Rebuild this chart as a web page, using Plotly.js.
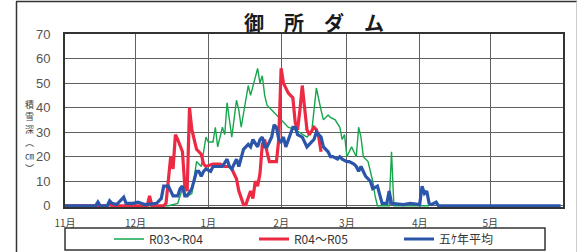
<!DOCTYPE html>
<html>
<head>
<meta charset="utf-8">
<script src="https://cdn.plot.ly/plotly-3.0.1.min.js"></script>
<style>html,body{margin:0;padding:0;background:#fff;}#chart{width:578px;height:252px;}</style>
</head>
<body>
<div id="chart"></div>
<script>
// Season axis: Nov -> May (month-day labels); Nov/Dec belong to first year
const monthTickVals = ["2022-11-01","2022-12-01","2023-01-01","2023-02-01","2023-03-01","2023-04-01","2023-05-01"];
const monthTickText = ["11月","12月","1月","2月","3月","4月","5月"];

const seriesNames = ["R03～R04","R04～R05","五ｹ年平均"];
const yTitleChars = ["積","雪","深","︵","㎝","︶"];

// R03～R04
const greenDates = ["11-01","11-30","12-02","12-04","12-15","12-19","12-21","12-23","12-25","12-27","12-29","12-31",
  "01-01","01-03","01-04","01-05","01-07","01-08","01-09","01-11","01-13","01-14","01-15","01-17","01-18","01-19",
  "01-21","01-22","01-23","01-24","01-25","01-26","01-29","02-01","02-04","02-07","02-10","02-12","02-14","02-16",
  "02-18","02-19","02-21","02-22","02-24","02-26","02-27","02-28","03-01","03-03","03-05","03-06","03-07","03-08",
  "03-10","03-12","03-13","03-14","03-19","03-20","03-21","04-05"];
const greenValues = [0,0,1.5,0,0,1,7,4,5,18,16,28,
  26,26,32,24,32,29,42,28,43,39,32,44,49,45,
  52,56,50,53,45,41,38,35,32,31,29,28,30,48,
  39,35,37,36,35,32,27,29,20,24,20,32,28,20,
  18,10,4,0,0,22,0,0];

// R04～R05
const redDates = ["11-01","11-19","11-20","11-21","12-06","12-07","12-08","12-13","12-14","12-15","12-16","12-17",
  "12-18","12-19","12-21","12-22","12-23","12-24","12-25","12-27","12-29","12-30","12-31","01-03","01-06","01-08",
  "01-10","01-11","01-13","01-14","01-16","01-17","01-19","01-20","01-21","01-22","01-23","01-24","01-25","01-26",
  "01-27","01-29","01-30","01-31","02-01","02-02","02-04","02-05","02-06","02-07","02-08","02-09","02-10","02-11",
  "02-12","02-13","02-15","02-16","02-17","02-18"];
const redValues = [0,0,1,0,0,4,0,0,1,10,20,15,
  29,27,22,8,6,40,31,23,21,17,16,17,17,16,
  16,15,11,6,0.5,0.5,6,3,10,8,13,25,27,22,
  18,18,18,27,56,50,46,45,44,34,31,39,49,40,
  31,29,32,31,28,22];

// 五ｹ年平均
const blueDates = ["11-01","11-14","11-15","11-16","11-19","11-20","11-21","11-23","11-26","11-27","11-30","12-02",
  "12-05","12-10","12-12","12-13","12-15","12-16","12-17","12-19","12-20","12-21","12-22","12-23","12-25","12-27",
  "12-28","12-29","12-30","12-31","01-02","01-03","01-05","01-07","01-09","01-10","01-11","01-13","01-14","01-15",
  "01-16","01-18","01-19","01-20","01-22","01-23","01-24","01-25","01-26","01-28","01-29","01-30","01-31","02-01",
  "02-02","02-03","02-04","02-06","02-07","02-08","02-10","02-11","02-12","02-14","02-15","02-16","02-18","02-19",
  "02-21","02-22","02-23","02-25","02-26","02-27","03-01","03-02","03-04","03-05","03-06","03-07","03-09","03-11",
  "03-12","03-14","03-15","03-16","03-18","03-19","03-20","03-25","03-28","04-01","04-02","04-03","04-04","04-05",
  "04-06","04-08","04-09","05-31"];
const blueValues = [0,0,1.5,0,0,2,1,0.5,3.5,1,1,1.5,
  0.5,1,3,8,8,6,4,4,7,8,4,4,7,14,
  14,12,14,15,14,16,16,16,19,16,15,19,16,19,
  23,25,24,27,24,27,28,24,24,28,33,32,27,26,
  28,24,27,32,32,29,28,26,24,26,27,30,28,24,
  22,20,20,19,20,19,18,18,17,16,14,16,12,10,
  7,8,5,1,1,6,1,0.5,1,0.5,8,5,6,1,
  0.5,1.5,0,0];

function toDate(md){
  const m = parseInt(md.slice(0,2),10);
  return (m >= 11 ? "2022-" : "2023-") + md;
}

const traces = [
  {x: greenDates.map(toDate), y: greenValues, name: seriesNames[0], type: "scatter", mode: "lines",
   line: {color: "#16a64c", width: 1.4}},
  {x: redDates.map(toDate), y: redValues, name: seriesNames[1], type: "scatter", mode: "lines",
   line: {color: "#ec2a44", width: 3.2}},
  {x: blueDates.map(toDate), y: blueValues, name: seriesNames[2], type: "scatter", mode: "lines",
   line: {color: "#2a55a8", width: 3.2}}
];

const fontMain = "'Noto Sans CJK JP', 'Noto Sans', sans-serif";
const PL = 65, PT = 34, PW = 498, PH = 173;
const px = v => (v - PL) / PW;
const py = v => (PT + PH - v) / PH;

const yTitleAnn = yTitleChars.map((c, i) => ({
  text: c, xref: "paper", yref: "paper", x: px(29), y: py(104 + i * 12.8),
  xanchor: "center", yanchor: "middle", showarrow: false, borderpad: 0,
  font: {family: fontMain, size: 9, color: "#444"}
}));

const layout = {
  width: 578, height: 252,
  margin: {l: PL, r: 578 - PL - PW, t: PT, b: 252 - PT - PH, pad: 0, autoexpand: false},
  paper_bgcolor: "#fff", plot_bgcolor: "#fff",
  showlegend: true,
  title: {text: "御　所　ダ　ム", font: {family: fontMain, size: 20, color: "#1a1a1a", weight: "bold"},
          x: 0.5, xref: "paper", xanchor: "center", y: 1 - 24/252, yref: "container", yanchor: "middle", automargin: false},
  xaxis: {type: "date", range: ["2022-11-01", "2023-06-01"],
          tickmode: "array", tickvals: monthTickVals, ticktext: monthTickText,
          showgrid: true, gridcolor: "#606060", gridwidth: 1,
          showline: true, mirror: true, linecolor: "#333", linewidth: 2,
          ticks: "", zeroline: false, layer: "below traces", automargin: false,
          tickfont: {family: fontMain, size: 10, color: "#444"}, ticklabelstandoff: 6, fixedrange: true},
  yaxis: {range: [-0.5, 70], tickmode: "linear", tick0: 0, dtick: 10,
          showgrid: true, gridcolor: "#606060", gridwidth: 1,
          showline: true, mirror: true, linecolor: "#333", linewidth: 2,
          ticks: "", zeroline: false, layer: "below traces", automargin: false,
          tickfont: {family: "'Liberation Sans', Arial, sans-serif", size: 13, color: "#555"}, ticklabelstandoff: 10, fixedrange: true},
  legend: {orientation: "h", x: px(109), xanchor: "left", y: py(239), yanchor: "middle",
           entrywidth: 100, entrywidthmode: "pixels", bgcolor: "rgba(0,0,0,0)", borderwidth: 0,
           font: {family: fontMain, size: 12, color: "#333"}, traceorder: "normal"},
  annotations: yTitleAnn,
  shapes: [
    // outer frame
    {type: "line", xref: "paper", yref: "paper", x0: px(16), x1: px(577), y0: py(1.5), y1: py(1.5),
     line: {color: "#333", width: 1.5}},
    {type: "line", xref: "paper", yref: "paper", x0: px(16.5), x1: px(16.5), y0: py(1.5), y1: py(260),
     line: {color: "#333", width: 1.5}},
    {type: "line", xref: "paper", yref: "paper", x0: px(576.5), x1: px(576.5), y0: py(1.5), y1: py(260),
     line: {color: "#ccc", width: 1}},
    // legend box
    {type: "rect", xref: "paper", yref: "paper", x0: 0, x1: px(545), y0: py(250), y1: py(228),
     line: {color: "#333", width: 1.5}, fillcolor: "rgba(0,0,0,0)"}
  ]
};

Plotly.newPlot("chart", traces, layout, {staticPlot: true, displayModeBar: false});
</script>
</body>
</html>
